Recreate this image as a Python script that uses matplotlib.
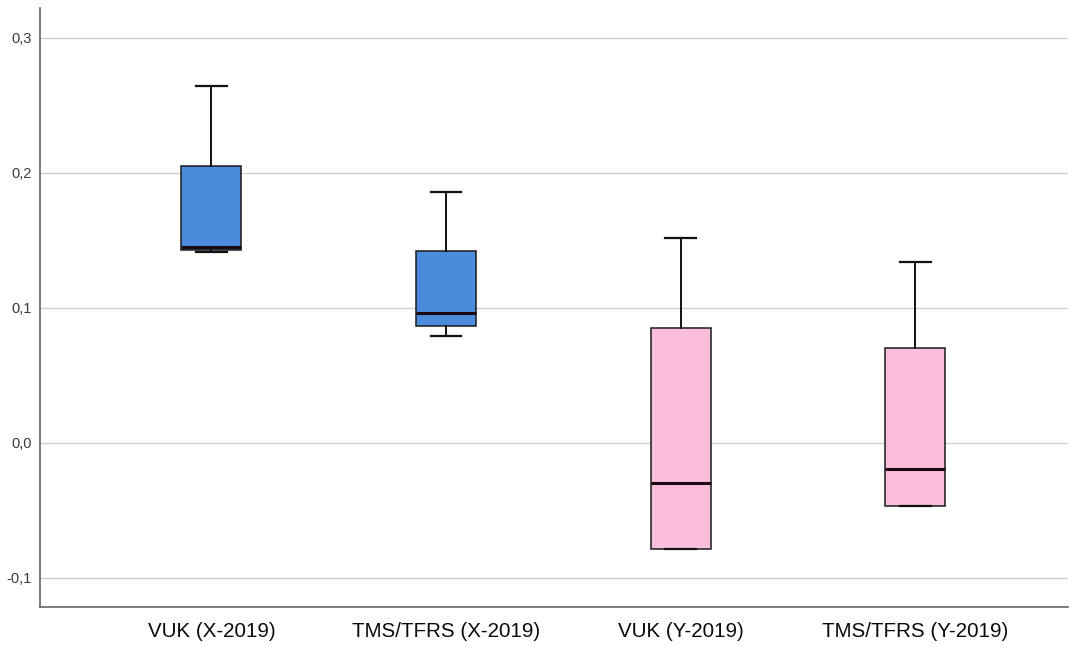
import matplotlib.pyplot as plt
from matplotlib.ticker import FuncFormatter

# Groups and five-number summaries
groups = ["VUK (X-2019)", "TMS/TFRS (X-2019)", "VUK (Y-2019)", "TMS/TFRS (Y-2019)"]
whisker_lo = [0.1417, 0.0795, -0.0788, -0.0464]
q1 = [0.1430, 0.0869, -0.0788, -0.0464]
median = [0.1452, 0.0961, -0.0299, -0.0195]
q3 = [0.2054, 0.1424, 0.0854, 0.0701]
whisker_hi = [0.2644, 0.1857, 0.1516, 0.1336]
colors = ["#4a8bdb", "#4a8bdb", "#f8bedb", "#f8bedb"]

stats = []
for name, lo, a, m, b, hi in zip(groups, whisker_lo, q1, median, q3, whisker_hi):
    stats.append({"label": name, "whislo": lo, "q1": a, "med": m, "q3": b,
                  "whishi": hi, "fliers": []})

plt.rcParams["font.family"] = ["Liberation Sans", "DejaVu Sans"]

fig = plt.figure(figsize=(10.78, 6.47), dpi=100)
ax = fig.add_axes([0.0371, 0.0618, 0.9536, 0.9258])

bp = ax.bxp(stats, positions=[1, 2, 3, 4], widths=0.255, patch_artist=True,
            showfliers=False,
            boxprops=dict(edgecolor="#1a1a1a", linewidth=1.1),
            medianprops=dict(color="#1a0a10", linewidth=2.2),
            whiskerprops=dict(color="#111111", linewidth=1.4),
            capprops=dict(color="#111111", linewidth=1.6),
            capwidths=0.13)
for patch, c in zip(bp["boxes"], colors):
    patch.set_facecolor(c)

ax.set_xlim(0.27, 4.65)
ax.set_ylim(-0.1215, 0.322)
ax.set_yticks([-0.1, 0.0, 0.1, 0.2, 0.3])
ax.yaxis.set_major_formatter(FuncFormatter(lambda v, p: f"{v:.1f}".replace(".", ",").replace("-0,0", "0,0")))
ax.yaxis.grid(True, color="#cfcfcf", linewidth=1.0)
ax.set_axisbelow(True)

ax.spines["top"].set_visible(False)
ax.spines["right"].set_visible(False)
for side in ["left", "bottom"]:
    ax.spines[side].set_color("#666666")
    ax.spines[side].set_linewidth(1.2)

ax.tick_params(axis="y", length=0, pad=6, labelsize=10.5, labelcolor="#3a3a3a")
ax.tick_params(axis="x", length=0, pad=11, labelsize=14.8, labelcolor="#0a0a0a")

fig.savefig("out.png", dpi=100)
